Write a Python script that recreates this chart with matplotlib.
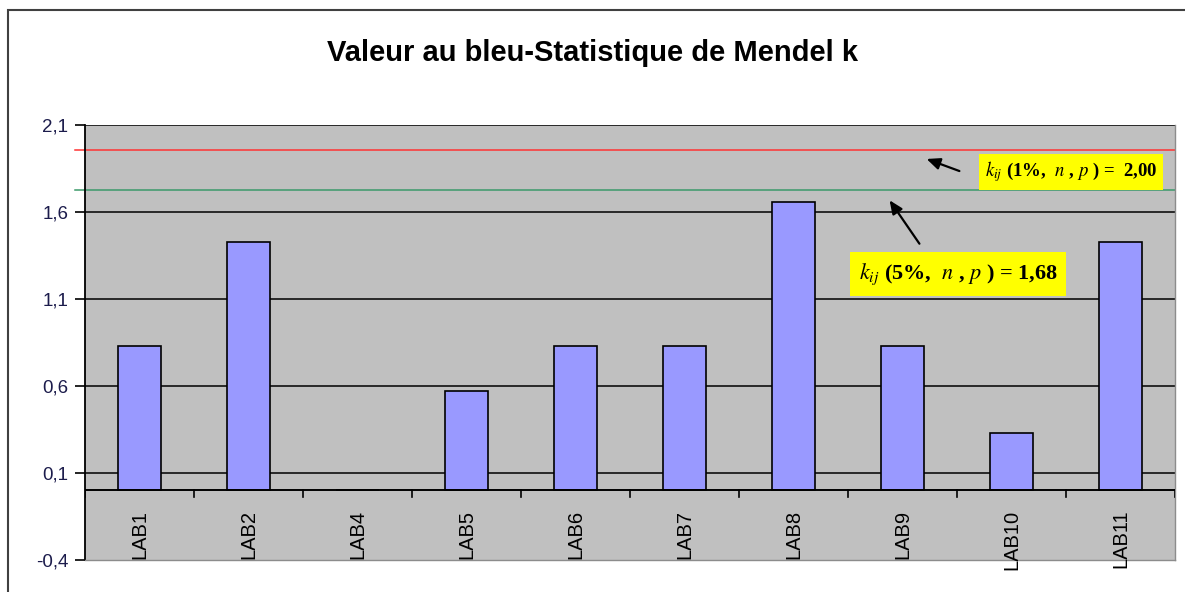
import matplotlib
matplotlib.use("Agg")
import numpy as np
from matplotlib import pyplot as plt
from matplotlib import font_manager
from matplotlib.patches import Rectangle

# data
labs = ["LAB1", "LAB2", "LAB4", "LAB5", "LAB6", "LAB7", "LAB8", "LAB9", "LAB10", "LAB11"]
k_values = [0.83, 1.43, 0.0, 0.57, 0.83, 0.83, 1.66, 0.83, 0.33, 1.43]
y_ticks = [-0.4, 0.1, 0.6, 1.1, 1.6, 2.1]
k_crit_1 = 1.958   # red line as drawn
k_crit_5 = 1.727   # green line as drawn
note_1 = r"$k_{ij}$ (1%,  $n$ , $p$ ) =  2,00"
note_5 = r"$k_{ij}$ (5%,  $n$ , $p$ ) = 1,68"

names = {f.name for f in font_manager.fontManager.ttflist}
title_font = "Liberation Sans Narrow" if "Liberation Sans Narrow" in names else "Liberation Sans"
title_size = 25 if title_font == "Liberation Sans Narrow" else 21

plt.rcParams["font.family"] = ["Liberation Sans", "DejaVu Sans"]
plt.rcParams["mathtext.fontset"] = "stix"

W, H = 1185, 592
figure = plt.figure(figsize=(W / 100, H / 100), dpi=100)
ax = figure.add_axes([85 / W, 32 / H, 1090 / W, 435 / H])
ax.set_facecolor("#c0c0c0")

x = np.arange(len(labs))
ax.bar(x, k_values, width=0.4, color="#9999ff", edgecolor="black", linewidth=1.2, zorder=3)

ax.set_xlim(-0.5, len(labs) - 0.5)
ax.set_ylim(y_ticks[0], y_ticks[-1])
ax.set_yticks(y_ticks)
ax.set_yticklabels([f"{t:.1f}".replace(".", ",") for t in y_ticks], color="#1c1c4c", fontsize=13.5)
ax.tick_params(axis="y", direction="out", length=7, width=1.2, pad=5)
ax.set_xticks([])
for t in y_ticks[1:]:
    ax.axhline(t, color="black", linewidth=1.1, zorder=1)

# category axis crossing at zero with ticks at category boundaries
ax.axhline(0, color="black", linewidth=1.4, zorder=4)
for b in np.arange(-0.5, len(labs)):
    ax.plot([b, b], [0, -0.04], color="black", linewidth=1.2, zorder=4)
for xi, name in zip(x, labs):
    ax.text(xi, -0.11, name, rotation=90, ha="center", va="top", fontsize=14.5, color="black")

# critical lines
ax.plot([-0.59, len(labs) - 0.5], [k_crit_1, k_crit_1], color="#ff3333", linewidth=1.1, clip_on=False, zorder=2)
ax.plot([-0.59, len(labs) - 0.5], [k_crit_5, k_crit_5], color="#3c9a6a", linewidth=1.1, clip_on=False, zorder=2)

for side in ["right", "bottom"]:
    ax.spines[side].set_color("#8c8c8c")
    ax.spines[side].set_linewidth(1.0)
ax.spines["left"].set_linewidth(1.3)
ax.spines["top"].set_visible(False)

# annotation boxes and arrows
figure.text(1071 / W, 1 - 172 / H, note_1, ha="center", va="center", fontsize=13.5,
            family="Liberation Serif", fontweight="bold",
            bbox=dict(boxstyle="square,pad=0.3", facecolor="#ffff00", edgecolor="none"))
figure.text(958 / W, 1 - 274 / H, note_5, ha="center", va="center", fontsize=16,
            family="Liberation Serif", fontweight="bold",
            bbox=dict(boxstyle="square,pad=0.4", facecolor="#ffff00", edgecolor="none"))
arrow_style = dict(arrowstyle="-|>,head_length=0.8,head_width=0.35", color="black", linewidth=1.6)
ax.annotate("", xy=(924, H - 158), xytext=(962, H - 172), xycoords="figure pixels",
            textcoords="figure pixels", arrowprops=arrow_style)
ax.annotate("", xy=(888, H - 198), xytext=(921, H - 246), xycoords="figure pixels",
            textcoords="figure pixels", arrowprops=arrow_style)

figure.text(0.5, 1 - 53 / H, "Valeur au bleu-Statistique de Mendel k", ha="center", va="center",
            fontsize=title_size, fontweight="bold", family=title_font)

# chart frame
figure.patches.append(Rectangle((8 / W, -0.1), 1.1, (H - 10) / H + 0.1, transform=figure.transFigure,
                                fill=False, edgecolor="#404040", linewidth=1.5, clip_on=False))

figure.savefig("out.png", dpi=100)
plt.close(figure)
